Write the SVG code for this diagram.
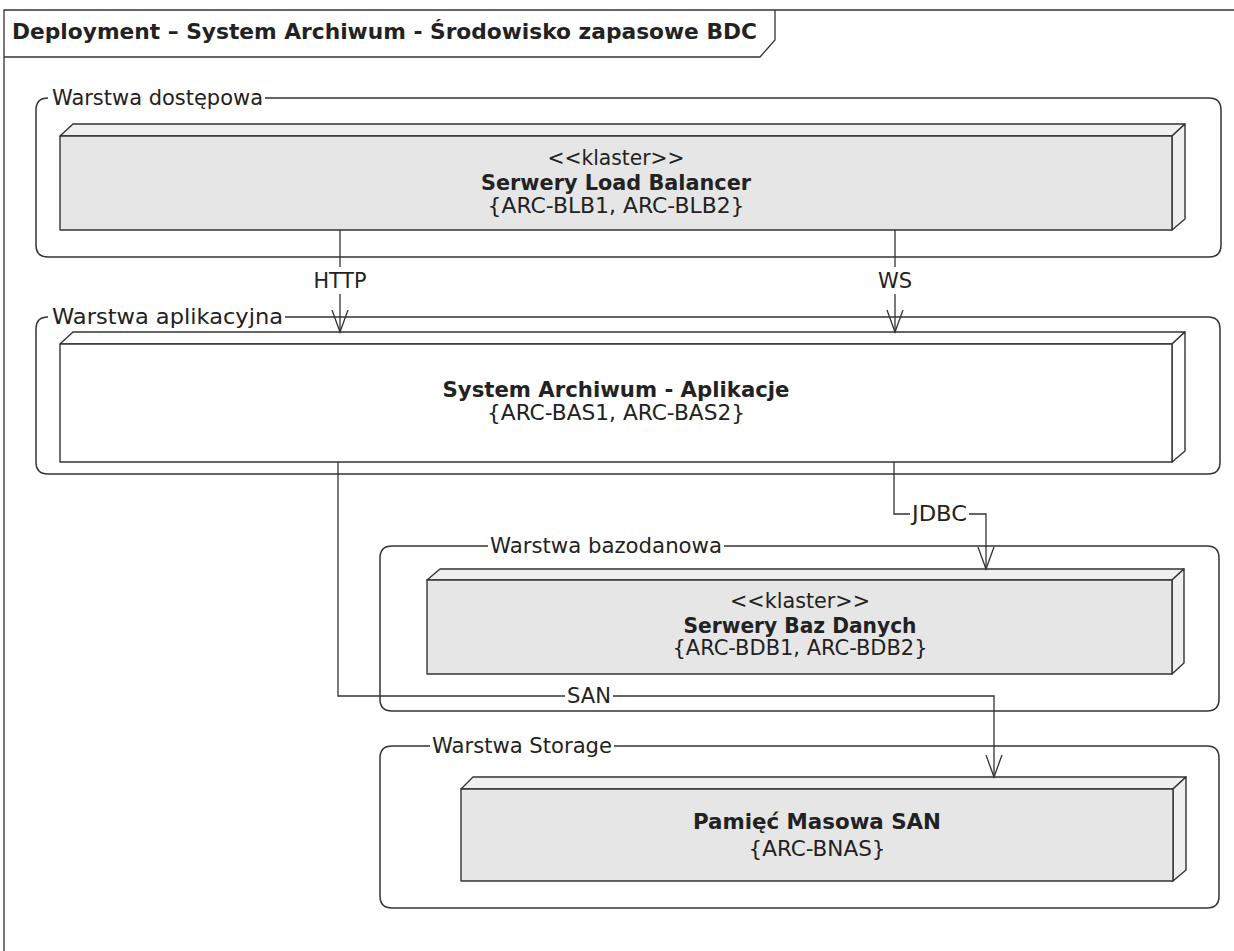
<svg xmlns="http://www.w3.org/2000/svg" width="1234" height="951" viewBox="0 0 1234 951">
<style>
.frame{fill:none;stroke:#333;stroke-width:1.3}
.cont{fill:none;stroke:#333;stroke-width:1.5}
.face{fill:#e6e6e6;stroke:#333;stroke-width:1.4;stroke-linejoin:round}
.face2{fill:#efefef;stroke:#333;stroke-width:1.4;stroke-linejoin:round}
.white{fill:#ffffff;stroke:#333;stroke-width:1.4;stroke-linejoin:round}
.t{font-family:"DejaVu Sans","Liberation Sans",sans-serif;font-size:21px;fill:#222}
.b{font-weight:bold}
.c{text-anchor:middle}
.n{font-family:"DejaVu Sans Condensed","DejaVu Sans","Liberation Sans",sans-serif;font-size:22px;fill:#222}
.conn{fill:none;stroke:#333;stroke-width:1.3}
.head{fill:none;stroke:#333;stroke-width:1.3;stroke-linejoin:miter}
</style>
<rect width="1234" height="951" fill="#ffffff"/>

<g id="frame">
<path class="frame" d="M1234,10 H4 V951"/>
<path class="frame" d="M4,57 H760 L775,40 V10"/>
<text class="t b" x="12" y="39" font-size="22" textLength="745" lengthAdjust="spacingAndGlyphs">Deployment – System Archiwum - Środowisko zapasowe BDC</text>
</g>

<g id="warstwa-dostepowa">
<path class="cont" d="M48,98 Q36,98 36,110 V245 Q36,257 48,257 H1209 Q1221,257 1221,245 V110 Q1221,98 1209,98 H265"/>
<text class="t" x="52" y="105" textLength="211" lengthAdjust="spacingAndGlyphs">Warstwa dostępowa</text>
</g>

<g id="node-load-balancer">
<path class="face2" d="M60,136 L73,124 H1185 L1172,136 Z"/>
<path class="face2" d="M1172,136 L1185,124 V219 L1172,230 Z"/>
<rect class="face" x="60" y="136" width="1112" height="94"/>
<text class="t c" x="616" y="165" textLength="137" lengthAdjust="spacingAndGlyphs">&lt;&lt;klaster&gt;&gt;</text>
<text class="t b c" x="616" y="190" textLength="270" lengthAdjust="spacingAndGlyphs">Serwery Load Balancer</text>
<text class="t c" x="616" y="213" textLength="257" lengthAdjust="spacingAndGlyphs">{ARC-BLB1, ARC-BLB2}</text>
</g>

<g id="warstwa-aplikacyjna">
<path class="cont" d="M48,317 Q36,317 36,329 V462 Q36,474 48,474 H1208 Q1220,474 1220,462 V329 Q1220,317 1208,317 H285"/>
<text class="t" x="52" y="324" textLength="231" lengthAdjust="spacingAndGlyphs">Warstwa aplikacyjna</text>
</g>

<g id="node-aplikacje">
<path class="white" d="M60,344 L73,332 H1185 L1172,344 Z"/>
<path class="white" d="M1172,344 L1185,332 V451 L1172,462 Z"/>
<rect class="white" x="60" y="344" width="1112" height="118"/>
<text class="t b c" x="616" y="397" textLength="347" lengthAdjust="spacingAndGlyphs">System Archiwum - Aplikacje</text>
<text class="t c" x="616" y="420" textLength="258" lengthAdjust="spacingAndGlyphs">{ARC-BAS1, ARC-BAS2}</text>
</g>

<g id="warstwa-bazodanowa">
<path class="cont" d="M392,546 Q380,546 380,558 V699 Q380,711 392,711 H1207 Q1219,711 1219,699 V558 Q1219,546 1207,546 H724"/>
<path class="cont" d="M392,546 H488"/>
<text class="t" x="490" y="553" textLength="232" lengthAdjust="spacingAndGlyphs">Warstwa bazodanowa</text>
</g>

<g id="node-bazy-danych">
<path class="face2" d="M427,580 L440,569 H1184 L1172,580 Z"/>
<path class="face2" d="M1172,580 L1184,569 V663 L1172,674 Z"/>
<rect class="face" x="427" y="580" width="745" height="94"/>
<text class="t c" x="800" y="608" textLength="140" lengthAdjust="spacingAndGlyphs">&lt;&lt;klaster&gt;&gt;</text>
<text class="t b c" x="800" y="633" textLength="233" lengthAdjust="spacingAndGlyphs">Serwery Baz Danych</text>
<text class="t c" x="800" y="655" textLength="255" lengthAdjust="spacingAndGlyphs">{ARC-BDB1, ARC-BDB2}</text>
</g>

<g id="warstwa-storage">
<path class="cont" d="M392,746 Q380,746 380,758 V896 Q380,908 392,908 H1207 Q1219,908 1219,896 V758 Q1219,746 1207,746 H614"/>
<path class="cont" d="M392,746 H430"/>
<text class="t" x="432" y="753" textLength="180" lengthAdjust="spacingAndGlyphs">Warstwa Storage</text>
</g>

<g id="node-pamiec-san">
<path class="face2" d="M461,789 L473,777 H1186 L1173,789 Z"/>
<path class="face2" d="M1173,789 L1186,777 V870 L1173,881 Z"/>
<rect class="face" x="461" y="789" width="712" height="92"/>
<text class="n b c" x="817" y="829" textLength="248" lengthAdjust="spacingAndGlyphs">Pamięć Masowa SAN</text>
<text class="n c" x="817" y="856" textLength="137" lengthAdjust="spacingAndGlyphs">{ARC-BNAS}</text>
</g>

<g id="connectors">
<path class="conn" d="M340,230 V267"/>
<path class="conn" d="M340,294 V332"/>
<path class="head" d="M332,310 L340,332 L348,310"/>
<text class="t c" x="340" y="288" textLength="53" lengthAdjust="spacingAndGlyphs">HTTP</text>
<path class="conn" d="M895,230 V267"/>
<path class="conn" d="M895,294 V332"/>
<path class="head" d="M887,310 L895,332 L903,310"/>
<text class="t c" x="895" y="288">WS</text>
<path class="conn" d="M894,462 V514 H910"/>
<path class="conn" d="M969,514 H986 V569"/>
<path class="head" d="M978,547 L986,569 L994,547"/>
<text class="t" x="912" y="521" textLength="55" lengthAdjust="spacingAndGlyphs">JDBC</text>
<path class="conn" d="M338,462 V696 H565"/>
<path class="conn" d="M613,696 H994 V777"/>
<path class="head" d="M986,755 L994,777 L1002,755"/>
<text class="t" x="567" y="703" textLength="44" lengthAdjust="spacingAndGlyphs">SAN</text>
</g>
</svg>
